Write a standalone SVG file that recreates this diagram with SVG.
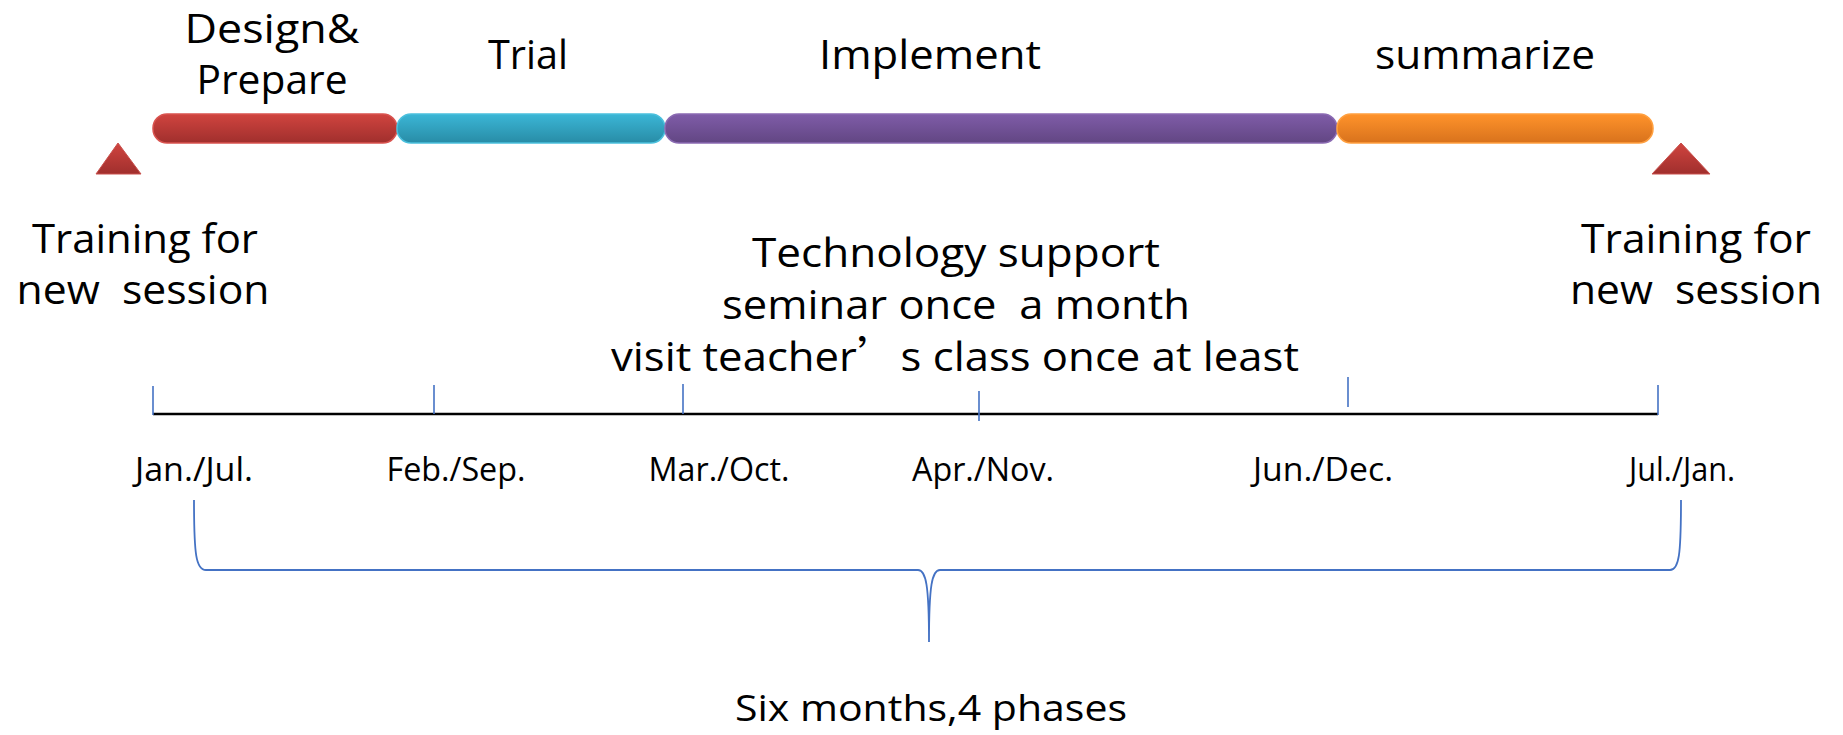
<svg xmlns="http://www.w3.org/2000/svg" width="1843" height="735" viewBox="0 0 1843 735">
<defs>
<linearGradient id="gRed" x1="0" y1="0" x2="0" y2="1"><stop offset="0" stop-color="#D0443F"/><stop offset="1" stop-color="#A02F2D"/></linearGradient>
<linearGradient id="gCyan" x1="0" y1="0" x2="0" y2="1"><stop offset="0" stop-color="#3BB6D6"/><stop offset="1" stop-color="#288CA6"/></linearGradient>
<linearGradient id="gPurple" x1="0" y1="0" x2="0" y2="1"><stop offset="0" stop-color="#7F5CA8"/><stop offset="1" stop-color="#624683"/></linearGradient>
<linearGradient id="gOrange" x1="0" y1="0" x2="0" y2="1"><stop offset="0" stop-color="#FF932B"/><stop offset="1" stop-color="#D8721C"/></linearGradient>
<style>
.t{font-family:"Open Sans","Noto Sans","Noto Sans CJK SC",sans-serif;fill:#000;text-anchor:middle}
.big{font-size:41px}
.mo{font-size:32px}
.tick{stroke:#4472C4;stroke-width:1.6;fill:none}
.brace{stroke:#4472C4;stroke-width:1.8;fill:none}
.bar{stroke-width:1.5}
</style>
</defs>
<g id="bars">
<rect id="bar-design" class="bar" x="153" y="114" width="244" height="29" rx="14" fill="url(#gRed)" stroke="#D9534F"/>
<rect id="bar-trial" class="bar" x="397" y="114" width="268" height="29" rx="14" fill="url(#gCyan)" stroke="#4BC0DD"/>
<rect id="bar-implement" class="bar" x="665" y="114" width="672" height="29" rx="14" fill="url(#gPurple)" stroke="#8A6AB2"/>
<rect id="bar-summarize" class="bar" x="1337" y="114" width="316" height="29" rx="14" fill="url(#gOrange)" stroke="#FFA040"/>
</g>
<g id="triangles">
<polygon id="tri-left" points="118,143 141,174 96,174" fill="url(#gRed)" stroke="#C9504C" stroke-width="1"/>
<polygon id="tri-right" points="1681,143 1710,174 1652,174" fill="url(#gRed)" stroke="#C9504C" stroke-width="1"/>
</g>
<g id="phase-labels">
<text class="t big" x="272" y="43" textLength="175" lengthAdjust="spacingAndGlyphs">Design&amp;</text>
<text class="t big" x="272" y="94" textLength="151" lengthAdjust="spacingAndGlyphs">Prepare</text>
<text class="t big" x="528" y="69" textLength="80" lengthAdjust="spacingAndGlyphs">Trial</text>
<text class="t big" x="930" y="69" textLength="222" lengthAdjust="spacingAndGlyphs">Implement</text>
<text class="t big" x="1485" y="69" textLength="220" lengthAdjust="spacingAndGlyphs">summarize</text>
</g>
<g id="training-left">
<text class="t big" x="145" y="253" textLength="226" lengthAdjust="spacingAndGlyphs">Training for</text>
<text class="t big" x="143" y="304" textLength="253" lengthAdjust="spacingAndGlyphs" xml:space="preserve">new  session</text>
</g>
<g id="training-right">
<text class="t big" x="1696" y="253" textLength="230" lengthAdjust="spacingAndGlyphs">Training for</text>
<text class="t big" x="1696" y="304" textLength="252" lengthAdjust="spacingAndGlyphs" xml:space="preserve">new  session</text>
</g>
<g id="support">
<text class="t big" x="956" y="267" textLength="408" lengthAdjust="spacingAndGlyphs">Technology support</text>
<text class="t big" x="956" y="319" textLength="468" lengthAdjust="spacingAndGlyphs" xml:space="preserve">seminar once  a month</text>
<text class="t big" x="955" y="371" textLength="688" lengthAdjust="spacingAndGlyphs">visit teacher<tspan font-family="Noto Sans CJK SC, sans-serif">’</tspan>s class once at least</text>
</g>
<g id="timeline">
<line x1="153" y1="414" x2="1658" y2="414" stroke="#000" stroke-width="2.5"/>
<line class="tick" x1="153" y1="386" x2="153" y2="415"/>
<line class="tick" x1="434" y1="385" x2="434" y2="414"/>
<line class="tick" x1="683" y1="384" x2="683" y2="414"/>
<line class="tick" x1="979" y1="391" x2="979" y2="421"/>
<line class="tick" x1="1348" y1="377" x2="1348" y2="407"/>
<line class="tick" x1="1658" y1="385" x2="1658" y2="415"/>
</g>
<g id="months">
<text class="t mo" x="194" y="481" textLength="118" lengthAdjust="spacingAndGlyphs">Jan./Jul.</text>
<text class="t mo" x="456" y="481" textLength="139" lengthAdjust="spacingAndGlyphs">Feb./Sep.</text>
<text class="t mo" x="719" y="481" textLength="141" lengthAdjust="spacingAndGlyphs">Mar./Oct.</text>
<text class="t mo" x="983" y="481" textLength="142" lengthAdjust="spacingAndGlyphs">Apr./Nov.</text>
<text class="t mo" x="1323" y="481" textLength="140" lengthAdjust="spacingAndGlyphs">Jun./Dec.</text>
<text class="t mo" x="1682" y="481" textLength="106" lengthAdjust="spacingAndGlyphs">Jul./Jan.</text>
</g>
<g id="connectors">
<path class="brace" d="M194,500 C194,555 196,570 206,570 L918,570 C926,570 929,585 929,642 C929,585 932,570 940,570 L1670,570 C1679,570 1681,555 1681,500"/>
</g>
<g id="summary">
<text class="t" font-size="36" x="931" y="721" textLength="392" lengthAdjust="spacingAndGlyphs">Six months,4 phases</text>
</g>
</svg>
